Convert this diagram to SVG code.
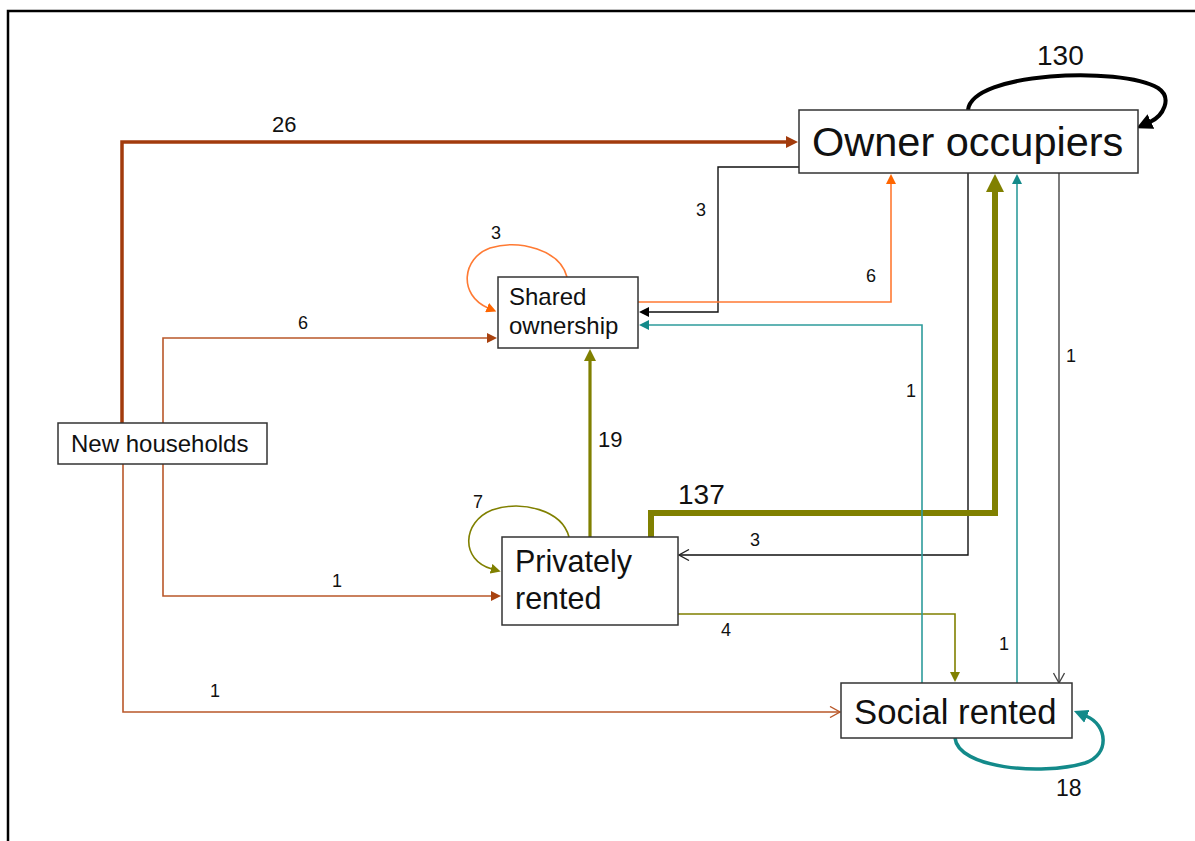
<svg xmlns="http://www.w3.org/2000/svg" width="1195" height="841" viewBox="0 0 1195 841">
<style>
  .node rect { fill: #fff; stroke: #333; stroke-width: 1.5; }
  .node text { font-family: "Liberation Sans", Arial, sans-serif; fill: #111; }
  .lbl { font-family: "Liberation Sans", Arial, sans-serif; fill: #111; font-size: 18px; }
  .c { fill: none; stroke-linejoin: miter; }
  .rust { stroke: #B9582A; stroke-width: 1.6; }
  .rustT { stroke: #A23B0C; stroke-width: 3.5; }
  .orange { stroke: #FF7A33; stroke-width: 1.6; }
  .black { stroke: #111; stroke-width: 1.4; }
  .gray { stroke: #444; stroke-width: 1.4; }
  .olive { stroke: #808000; stroke-width: 1.6; }
  .oliveM { stroke: #808000; stroke-width: 3.2; }
  .oliveT { stroke: #808000; stroke-width: 6; }
  .teal { stroke: #2E9C9C; stroke-width: 1.6; }
  .tealT { stroke: #138A8A; stroke-width: 3.5; }
</style>
<defs>
  <marker id="mRustBig" viewBox="0 0 12 12" markerWidth="12" markerHeight="12" refX="1" refY="6" orient="auto" markerUnits="userSpaceOnUse"><path d="M0,0 L12,6 L0,12 z" fill="#A23B0C"/></marker>
  <marker id="mRust" viewBox="0 0 10 10" markerWidth="10" markerHeight="10" refX="1" refY="5" orient="auto" markerUnits="userSpaceOnUse"><path d="M0,0 L10,5 L0,10 z" fill="#A8420F"/></marker>
  <marker id="mRustOpen" viewBox="0 0 12 12" markerWidth="12" markerHeight="12" refX="11" refY="6" orient="auto" markerUnits="userSpaceOnUse"><path d="M1,0.5 L11,6 L1,11.5" fill="none" stroke="#B9582A" stroke-width="1.4"/></marker>
  <marker id="mOrange" viewBox="0 0 10 10" markerWidth="10" markerHeight="10" refX="1" refY="5" orient="auto" markerUnits="userSpaceOnUse"><path d="M0,0 L10,5 L0,10 z" fill="#FF6600"/></marker>
  <marker id="mBlack" viewBox="0 0 10 10" markerWidth="10" markerHeight="10" refX="1" refY="5" orient="auto" markerUnits="userSpaceOnUse"><path d="M0,0 L10,5 L0,10 z" fill="#000"/></marker>
  <marker id="mBlackBig" viewBox="0 0 16 16" markerWidth="16" markerHeight="16" refX="1" refY="8" orient="auto" markerUnits="userSpaceOnUse"><path d="M0,0 L16,8 L0,16 z" fill="#000"/></marker>
  <marker id="mBlackOpen" viewBox="0 0 12 12" markerWidth="12" markerHeight="12" refX="11" refY="6" orient="auto" markerUnits="userSpaceOnUse"><path d="M1,0.5 L11,6 L1,11.5" fill="none" stroke="#222" stroke-width="1.3"/></marker>
  <marker id="mGrayOpen" viewBox="0 0 12 12" markerWidth="12" markerHeight="12" refX="11" refY="6" orient="auto" markerUnits="userSpaceOnUse"><path d="M1,0.5 L11,6 L1,11.5" fill="none" stroke="#444" stroke-width="1.3"/></marker>
  <marker id="mOlive" viewBox="0 0 10 10" markerWidth="10" markerHeight="10" refX="1" refY="5" orient="auto" markerUnits="userSpaceOnUse"><path d="M0,0 L10,5 L0,10 z" fill="#808000"/></marker>
  <marker id="mOliveM" viewBox="0 0 12 12" markerWidth="12" markerHeight="12" refX="1" refY="6" orient="auto" markerUnits="userSpaceOnUse"><path d="M0,0 L12,6 L0,12 z" fill="#808000"/></marker>
  <marker id="mOliveBig" viewBox="0 0 18 18" markerWidth="18" markerHeight="18" refX="1" refY="9" orient="auto" markerUnits="userSpaceOnUse"><path d="M0,0 L18,9 L0,18 z" fill="#808000"/></marker>
  <marker id="mTeal" viewBox="0 0 10 10" markerWidth="10" markerHeight="10" refX="1" refY="5" orient="auto" markerUnits="userSpaceOnUse"><path d="M0,0 L10,5 L0,10 z" fill="#138A8A"/></marker>
  <marker id="mTealBig" viewBox="0 0 14 14" markerWidth="14" markerHeight="14" refX="1" refY="7" orient="auto" markerUnits="userSpaceOnUse"><path d="M0,0 L14,7 L0,14 z" fill="#138A8A"/></marker>
</defs>

<rect x="8" y="11" width="1200" height="850" fill="none" stroke="#000" stroke-width="2.5"/>

<g id="connectors">
  <!-- New households flows -->
  <path class="c rustT" d="M122,423 V142 H787" marker-end="url(#mRustBig)"/>
  <path class="c rust" d="M163,423 V338 H488" marker-end="url(#mRust)"/>
  <path class="c rust" d="M163,464 V596 H492" marker-end="url(#mRust)"/>
  <path class="c rust" d="M123,464 V712 H840" marker-end="url(#mRustOpen)"/>
  <!-- Owner occupiers flows -->
  <path class="c" stroke="#000" stroke-width="4" fill="none" d="M968,110 C972,72 1120,66 1158,88 C1173,98 1163,116 1150,122" marker-end="url(#mBlackBig)"/>
  <path class="c black" d="M799,167 H718 V312 H648" marker-end="url(#mBlack)"/>
  <path class="c black" d="M968,173 V555 H679" marker-end="url(#mBlackOpen)"/>
  <path class="c gray" d="M1059,173 V683" marker-end="url(#mGrayOpen)"/>
  <!-- Shared ownership flows -->
  <path class="c orange" d="M567,277 C560,250 520,239 490,248 C462,258 458,295 488,308" marker-end="url(#mOrange)"/>
  <path class="c orange" d="M638,302 H891 V183" marker-end="url(#mOrange)"/>
  <!-- Privately rented flows -->
  <path class="c olive" d="M569,537 C562,510 522,500 492,510 C462,522 460,560 492,569" marker-end="url(#mOlive)"/>
  <path class="c oliveM" d="M590,537 V360" marker-end="url(#mOliveM)"/>
  <path class="c oliveT" d="M651,537 V513 H995 V191" marker-end="url(#mOliveBig)"/>
  <path class="c olive" d="M678,614 H955 V673" marker-end="url(#mOlive)"/>
  <!-- Social rented flows -->
  <path class="c teal" d="M922,683 V325 H648" marker-end="url(#mTeal)"/>
  <path class="c teal" d="M1017,683 V183" marker-end="url(#mTeal)"/>
  <path class="c tealT" d="M955,738 C958,768 1040,776 1085,763 C1110,755 1108,725 1086,716" marker-end="url(#mTealBig)"/>

  <!-- labels -->
  <text class="lbl" x="272" y="132" style="font-size:22px">26</text>
  <text class="lbl" x="298" y="329">6</text>
  <text class="lbl" x="332" y="587">1</text>
  <text class="lbl" x="210" y="697">1</text>
  <text class="lbl" x="1037" y="65" style="font-size:28px">130</text>
  <text class="lbl" x="696" y="216">3</text>
  <text class="lbl" x="750" y="546">3</text>
  <text class="lbl" x="1066" y="362">1</text>
  <text class="lbl" x="491" y="239">3</text>
  <text class="lbl" x="866" y="282">6</text>
  <text class="lbl" x="473" y="508">7</text>
  <text class="lbl" x="598" y="447" style="font-size:22px">19</text>
  <text class="lbl" x="678" y="504" style="font-size:28px">137</text>
  <text class="lbl" x="721" y="636">4</text>
  <text class="lbl" x="906" y="397">1</text>
  <text class="lbl" x="999" y="650">1</text>
  <text class="lbl" x="1056" y="796" style="font-size:23px">18</text>
</g>

<g id="owner-occupiers" class="node">
  <rect x="799" y="110" width="339" height="63"/>
  <text x="812" y="156" style="font-size:41.5px">Owner occupiers</text>
</g>
<g id="shared-ownership" class="node">
  <rect x="498" y="277" width="140" height="71"/>
  <text x="509" y="305" style="font-size:24px">Shared</text>
  <text x="509" y="334" style="font-size:24px">ownership</text>
</g>
<g id="new-households" class="node">
  <rect x="58" y="423" width="209" height="41"/>
  <text x="71" y="452" style="font-size:24px">New households</text>
</g>
<g id="privately-rented" class="node">
  <rect x="502" y="537" width="176" height="88"/>
  <text x="515" y="572" style="font-size:30.5px">Privately</text>
  <text x="515" y="609" style="font-size:30.5px">rented</text>
</g>
<g id="social-rented" class="node">
  <rect x="841" y="683" width="231" height="55"/>
  <text x="854" y="724" style="font-size:34.7px">Social rented</text>
</g>
</svg>
